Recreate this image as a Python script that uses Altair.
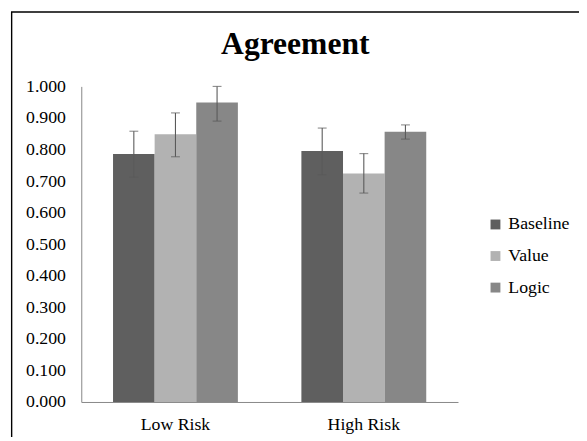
import altair as alt
import pandas as pd

groups = ["Low Risk", "High Risk"]
series = ["Baseline", "Value", "Logic"]
colors = ["#5f5f5f", "#b2b2b2", "#878787"]

baseline_mean = [0.786, 0.795]
baseline_low = [0.712, 0.720]
baseline_high = [0.858, 0.868]

value_mean = [0.848, 0.724]
value_low = [0.777, 0.662]
value_high = [0.916, 0.787]

logic_mean = [0.949, 0.856]
logic_low = [0.890, 0.833]
logic_high = [1.000, 0.878]

y_ticks = [0.0, 0.1, 0.2, 0.3, 0.4, 0.5, 0.6, 0.7, 0.8, 0.9, 1.0]

rows = []
for s, means, lows, highs in [
    ("Baseline", baseline_mean, baseline_low, baseline_high),
    ("Value", value_mean, value_low, value_high),
    ("Logic", logic_mean, logic_low, logic_high),
]:
    for g, m, lo, hi in zip(groups, means, lows, highs):
        rows.append({"group": g, "series": s, "mean": m, "lower": lo, "upper": hi})
df = pd.DataFrame(rows)

FONT = "Times New Roman, Liberation Serif, serif"
ERR = "#5a5a5a"
AXIS = "#868686"

x = alt.X(
    "group:N",
    sort=groups,
    scale=alt.Scale(paddingInner=0, paddingOuter=0),
    axis=alt.Axis(
        title=None, labelAngle=0, ticks=False, tickSize=0, domainColor=AXIS,
        domainWidth=1, labelFont=FONT, labelFontSize=18, labelColor="black",
        labelPadding=14,
    ),
)
xo = alt.XOffset("series:N", sort=series, scale=alt.Scale(paddingInner=0, paddingOuter=0.763))
yscale = alt.Scale(domain=[0, 1], nice=False)
yaxis = alt.Axis(
    title=None, values=y_ticks, format=".3f", grid=False, ticks=False,
    tickSize=0, domainColor=AXIS, domainWidth=1, labelFont=FONT,
    labelFontSize=18, labelColor="black", labelPadding=16,
    labelOverlap=False, labelFlush=False, labelBound=False, labelSeparation=0,
)

bars = alt.Chart(df).mark_bar().encode(
    x=x,
    xOffset=xo,
    y=alt.Y("mean:Q", scale=yscale, axis=yaxis),
    color=alt.Color(
        "series:N",
        sort=series,
        scale=alt.Scale(domain=series, range=colors),
        legend=alt.Legend(
            title=None, orient="none", legendX=411, legendY=131,
            symbolType="square", symbolSize=100, symbolStrokeWidth=0,
            labelFont=FONT, labelFontSize=18, labelColor="black",
            labelOffset=4, rowPadding=14, padding=0,
        ),
    ),
)

rules = alt.Chart(df).mark_rule(color=ERR, strokeWidth=1.1).encode(
    x=x, xOffset=xo, y=alt.Y("lower:Q", scale=yscale, axis=yaxis), y2="upper:Q"
)
cap_lo = alt.Chart(df).mark_tick(color=ERR, size=9, thickness=1.1).encode(
    x=x, xOffset=xo, y=alt.Y("lower:Q", scale=yscale, axis=yaxis)
)
cap_hi = alt.Chart(df).mark_tick(color=ERR, size=9, thickness=1.1).encode(
    x=x, xOffset=xo, y=alt.Y("upper:Q", scale=yscale, axis=yaxis)
)

border = alt.Chart(pd.DataFrame({"k": [0]})).mark_rect(
    filled=False, stroke="black", strokeWidth=1.4
).encode(
    x=alt.value(-70.6), x2=alt.value(800), y=alt.value(-75.5), y2=alt.value(800)
)

chart = alt.layer(bars, rules, cap_lo, cap_hi, border).properties(
    width=382,
    height=320,
    title=alt.TitleParams(
        "Agreement", font=FONT, fontSize=32, fontWeight="bold", color="black",
        anchor="middle", frame="group", dx=26, offset=0, dy=75.5,
        baseline="alphabetic",
    ),
    autosize=alt.AutoSizeParams(type="none"),
    padding={"left": 74.3, "top": 76.5, "right": 122.7, "bottom": 32},
).configure(
    background="white",
    view=alt.ViewConfig(strokeWidth=0),
    axis=alt.AxisConfig(labelOverlap=False),
    axisY=alt.AxisConfig(labelOverlap=False),
    axisQuantitative=alt.AxisConfig(labelOverlap=False, tickCount=11),
)

chart.save("out.html", embed_options={"renderer": "svg", "actions": False})
